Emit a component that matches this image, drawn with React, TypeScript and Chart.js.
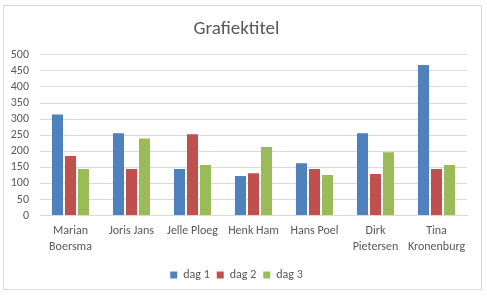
import React, { useEffect, useRef } from "react";
import { Chart, registerables } from "chart.js";

Chart.register(...registerables);

const categories: (string | string[])[] = [
  ["Marian", "Boersma"],
  "Joris Jans",
  "Jelle Ploeg",
  "Henk Ham",
  "Hans Poel",
  ["Dirk", "Pietersen"],
  ["Tina", "Kronenburg"],
];
const dag1 = [314, 256, 145, 123, 163, 256, 468];
const dag2 = [185, 145, 253, 132, 145, 129, 145];
const dag3 = [145, 240, 157, 213, 126, 197, 157];

const FONT = "Carlito, Calibri, 'Liberation Sans', sans-serif";
const TEXT = "#595959";

export default function App() {
  const ref = useRef<HTMLCanvasElement>(null);
  useEffect(() => {
    const chart = new Chart(ref.current!, {
      type: "bar",
      data: {
        labels: categories,
        datasets: [
          { label: "dag 1", data: dag1, backgroundColor: "#4F81BD" },
          { label: "dag 2", data: dag2, backgroundColor: "#C0504D" },
          { label: "dag 3", data: dag3, backgroundColor: "#9BBB59" },
        ],
      },
      options: {
        animation: false,
        responsive: false,
        maintainAspectRatio: false,
        datasets: { bar: { categoryPercentage: 0.64, barPercentage: 0.85 } },
        layout: { padding: { top: 10, left: 6, right: 20, bottom: 6 } },
        plugins: {
          title: {
            display: true,
            text: "Grafiektitel",
            color: TEXT,
            font: { family: FONT, size: 19, weight: "normal" },
            padding: { top: 8, bottom: 14 },
          },
          legend: {
            position: "bottom",
            labels: {
              color: TEXT,
              font: { family: FONT, size: 12 },
              boxWidth: 7,
              boxHeight: 7,
              padding: 7,
            },
          },
          tooltip: { enabled: false },
        },
        scales: {
          x: {
            grid: { display: false, drawTicks: false },
            border: { color: "#D9D9D9" },
            ticks: {
              color: TEXT,
              font: { family: FONT, size: 12, lineHeight: 1.35 },
              padding: 7,
              maxRotation: 0,
              autoSkip: false,
            },
          },
          y: {
            min: 0,
            max: 500,
            afterFit: (s: any) => {
              s.width = 34;
            },
            grid: { color: "#D9D9D9", drawTicks: false },
            border: { display: false },
            ticks: {
              stepSize: 50,
              autoSkip: false,
              color: TEXT,
              font: { family: FONT, size: 12 },
              padding: 11,
            },
          },
        },
      },
    });
    return () => chart.destroy();
  }, []);
  return (
    <div
      style={{
        position: "fixed",
        left: 0,
        top: 0,
        width: 487,
        height: 297,
        background: "#fff",
      }}
    >
      <div
        style={{
          position: "absolute",
          left: 3,
          top: 5,
          width: 479,
          height: 285,
          border: "1px solid #D9D9D9",
          boxSizing: "border-box",
        }}
      />
      <canvas
        ref={ref}
        width={487}
        height={297}
        style={{ position: "absolute", left: 0, top: 0, width: 487, height: 297 }}
      />
    </div>
  );
}
